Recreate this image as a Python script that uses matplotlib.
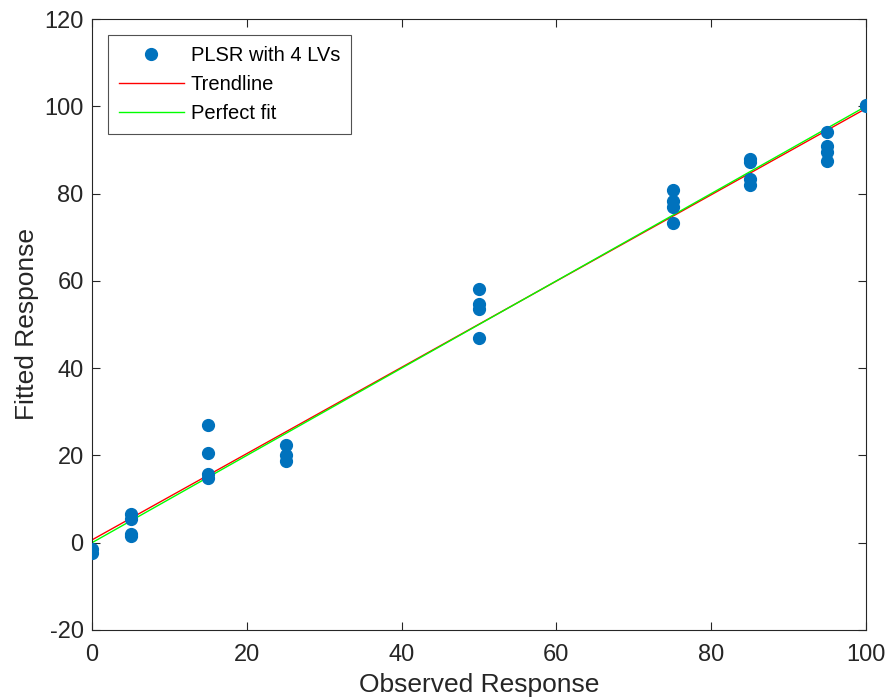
import numpy as np
import matplotlib
matplotlib.use("Agg")
import matplotlib.pyplot as plt

plt.rcParams['font.family'] = ['Liberation Sans', 'DejaVu Sans']
plt.rcParams['axes.unicode_minus'] = False

observed = [0, 0,
            5, 5, 5, 5,
            15, 15, 15, 15,
            25, 25, 25,
            50, 50, 50, 50,
            75, 75, 75, 75,
            85, 85, 85, 85,
            95, 95, 95, 95,
            100, 100]
fitted = [-1.5, -2.3,
          6.6, 5.5, 2.1, 1.6,
          26.9, 20.6, 15.8, 14.8,
          22.3, 20.2, 18.8,
          58.2, 54.8, 53.6, 47.0,
          80.8, 78.2, 77.0, 73.2,
          87.9, 87.2, 83.4, 82.0,
          94.0, 90.8, 89.6, 87.5,
          100.3, 100.0]

x = np.array(observed, dtype=float)
y = np.array(fitted, dtype=float)
slope, intercept = np.polyfit(x, y, 1)
xl = np.array([0.0, 100.0])

fig = plt.figure(figsize=(8.88, 7.0), dpi=100)
ax = fig.add_axes([92/888, 1 - 630/700, (866-92)/888, (630-19)/700])

ax.plot(x, y, 'o', color='#0072BD', markersize=8.5, label='PLSR with 4 LVs', zorder=3)
ax.plot(xl, slope*xl + intercept, '-', color='#FF0000', lw=1, label='Trendline')
ax.plot(xl, xl, '-', color='#00FF00', lw=1, label='Perfect fit')

ax.set_xlim(0, 100)
ax.set_ylim(-20, 120)
ax.set_xticks(np.arange(0, 101, 20))
ax.set_yticks(np.arange(-20, 121, 20))
ax.tick_params(direction='in', top=True, right=True, labelsize=17, colors='#262626', length=6, pad=6)
ax.tick_params(axis='x', pad=10)
for s in ax.spines.values():
    s.set_color('#262626')
    s.set_linewidth(0.8)
ax.set_xlabel('Observed Response', fontsize=19, color='#262626', labelpad=5)
ax.set_ylabel('Fitted Response', fontsize=19, color='#262626', labelpad=4)

leg = ax.legend(loc='upper left', bbox_to_anchor=(16/774, 1 - 16/611), fontsize=14.5,
                frameon=True, fancybox=False, edgecolor='#262626', handlelength=3.2,
                handletextpad=0.35, borderpad=0.55, labelspacing=0.5, borderaxespad=0)
leg.get_frame().set_linewidth(0.8)

fig.savefig('out.png', dpi=100)
